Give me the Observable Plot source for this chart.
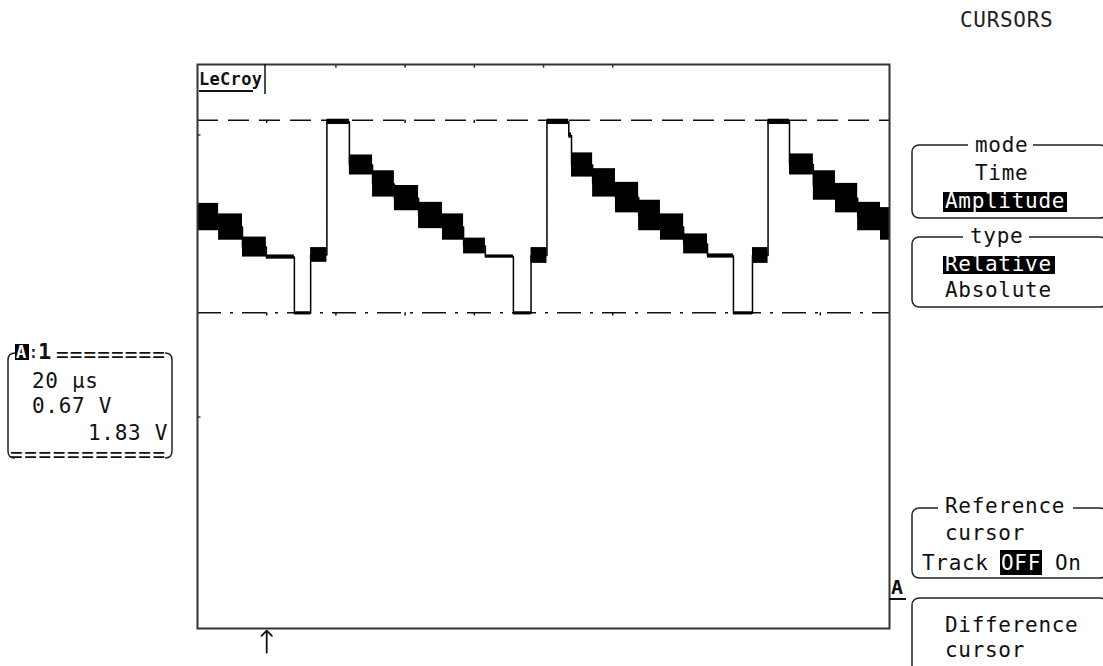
<!DOCTYPE html>
<html><head><meta charset="utf-8">
<script src="https://cdn.jsdelivr.net/npm/d3@7"></script>
<script src="https://cdn.jsdelivr.net/npm/@observablehq/plot@0.6"></script>
<style>
body{margin:0;background:#fff;}
#chart{position:relative;width:1103px;height:666px;overflow:hidden;}
</style></head><body><div id="chart"></div>
<script>
// ---- data ----
const timePerDiv = 20;      // µs / div
const voltsPerDiv = 0.67;   // V / div
const refCursor = 0.32;     // V (dash-dot cursor)
const diffCursor = 2.15;    // V (dashed cursor)
const triggerT = 20;        // µs, trigger arrow
const groundV = -2.40;      // V, channel A marker

// waveform segments: [t0 (µs), t1 (µs), low (V), high (V)]
const segments = [
  [0.0, 6.1, 1.10, 1.36],
  [6.1, 13.0, 1.01, 1.26],
  [13.0, 19.9, 0.85, 1.04],
  [19.9, 28.0, 0.83, 0.87],
  [28.0, 32.7, 0.30, 0.33],
  [32.7, 37.4, 0.80, 0.94],
  [37.4, 43.9, 2.11, 2.16],
  [43.9, 50.6, 1.63, 1.82],
  [50.6, 56.9, 1.42, 1.67],
  [56.9, 63.9, 1.29, 1.53],
  [63.9, 70.8, 1.12, 1.37],
  [70.8, 76.9, 1.01, 1.26],
  [76.9, 83.2, 0.88, 1.03],
  [83.2, 91.3, 0.84, 0.87],
  [91.3, 96.4, 0.30, 0.33],
  [96.4, 101.0, 0.79, 0.94],
  [101.0, 107.3, 2.11, 2.16],
  [107.3, 108.1, 1.98, 2.03],
  [108.1, 114.2, 1.61, 1.84],
  [114.2, 120.8, 1.42, 1.69],
  [120.8, 127.5, 1.27, 1.56],
  [127.5, 133.8, 1.10, 1.39],
  [133.8, 140.5, 1.01, 1.26],
  [140.5, 147.4, 0.88, 1.07],
  [147.4, 154.9, 0.84, 0.88],
  [154.9, 160.4, 0.30, 0.33],
  [160.4, 164.9, 0.79, 0.94],
  [164.9, 171.1, 2.11, 2.16],
  [171.1, 178.0, 1.63, 1.83],
  [178.0, 184.4, 1.39, 1.67],
  [184.4, 190.8, 1.27, 1.55],
  [190.8, 197.4, 1.10, 1.37],
  [197.4, 200.0, 1.01, 1.32]
];

const topTicks = [40, 60, 80, 100, 120];
const leftTicks = [2.01, -0.67];
const dashTicks = [20, 60, 80];
const dashDotTicks = [20, 40, 60, 80, 120, 180];

const readout = ["20 µs", "0.67 V", "1.83 V"];
const menuMode = ["mode", "Time", "Amplitude"];
const menuType = ["type", "Relative", "Absolute"];
const menuRef = ["Reference", "cursor", "Track", "OFF", "On"];
const menuDiff = ["Difference", "cursor"];

// ---- build ----
const segTable = segments.map(([t0, t1, lo, hi]) => ({t0, t1, lo, hi}));
const tracePts = segTable.flatMap(s => [{t: s.t0, v: (s.lo + s.hi) / 2}, {t: s.t1, v: (s.lo + s.hi) / 2}]);
const yMax = 4 * voltsPerDiv;

const plot = Plot.plot({
  width: 1103, height: 666,
  marginLeft: 197, marginRight: 214, marginTop: 64, marginBottom: 38,
  x: {domain: [0, 10 * timePerDiv], axis: null},
  y: {domain: [-yMax, yMax], axis: null},
  style: {background: "white", overflow: "visible"},
  marks: [
    Plot.ruleY([diffCursor], {stroke: "#111", strokeWidth: 1.5, strokeDasharray: "21,10"}),
    Plot.ruleY([refCursor], {stroke: "#111", strokeWidth: 1.5, strokeDasharray: "24,9,3,9"}),
    Plot.ruleX(dashTicks, {x: d => d, y1: diffCursor, y2: diffCursor - 0.03, stroke: "#111", strokeWidth: 1.5}),
    Plot.ruleX(dashDotTicks, {x: d => d, y1: refCursor, y2: refCursor - 0.03, stroke: "#111", strokeWidth: 1.5}),
    Plot.rect(segTable, {x1: "t0", x2: "t1", y1: "lo", y2: "hi", fill: "black"}),
    Plot.line(tracePts, {x: "t", y: "v", stroke: "black", strokeWidth: 1.5}),
    Plot.frame({stroke: "#333", strokeWidth: 2}),
    Plot.ruleX(topTicks, {x: d => d, y1: yMax, y2: yMax - 0.035, stroke: "#333", strokeWidth: 1.5}),
    Plot.ruleY(leftTicks, {y: d => d, x1: 0, x2: 1, stroke: "#333", strokeWidth: 1.5}),
    Plot.arrow([triggerT], {x1: d => d, x2: d => d, y1: -yMax - 0.23, y2: -yMax - 0.02,
      stroke: "#111", strokeWidth: 1.8, headLength: 11, headAngle: 90})
  ]
});
document.getElementById("chart").appendChild(plot);

// ---- scope chrome ----
const svg = d3.select(plot);
const g = svg.append("g")
  .attr("text-anchor", "start")
  .attr("font-family", "'DejaVu Sans Mono', monospace")
  .attr("font-size", 21).attr("letter-spacing", "0.7px").attr("fill", "#111");

function txt(x, y, s, o = {}) {
  const t = g.append("text").attr("x", x).attr("y", y).attr("text-anchor", "start").text(s);
  for (const k in o) t.attr(k, o[k]);
  return t;
}
function inv(x, y, w, h, tx, ty, s) {
  g.append("rect").attr("x", x).attr("y", y).attr("width", w).attr("height", h).attr("fill", "#000");
  txt(tx, ty, s, {fill: "#fff"});
}
function box(x, y, w, h, title, tx0, tx1) {
  g.append("rect").attr("x", x).attr("y", y).attr("width", w).attr("height", h).attr("rx", 7)
    .attr("fill", "none").attr("stroke", "#222").attr("stroke-width", 1.5);
  if (title) {
    g.append("rect").attr("x", tx0).attr("y", y - 3).attr("width", tx1 - tx0).attr("height", 6).attr("fill", "#fff");
  }
}

// title
txt(960, 27, "CURSORS", {fill: "#222"});

// LeCroy logo
txt(199, 85, "LeCroy", {"font-weight": "bold", "font-size": 17, "letter-spacing": "0.3px"});
g.append("line").attr("x1", 199).attr("x2", 253).attr("y1", 91).attr("y2", 91).attr("stroke", "#111").attr("stroke-width", 2);
g.append("line").attr("x1", 265).attr("x2", 265).attr("y1", 64).attr("y2", 94).attr("stroke", "#111").attr("stroke-width", 1.5);

// channel A ground marker
txt(891, 594, "A", {"font-weight": "bold", "font-size": 20, "letter-spacing": "0px"});
g.append("line").attr("x1", 889).attr("x2", 906).attr("y1", 599).attr("y2", 599).attr("stroke", "#111").attr("stroke-width", 2);

// readout box
g.append("path").attr("d", "M15 353 Q8 353 8 360 L8 451 Q8 458 15 458").attr("fill", "none").attr("stroke", "#222").attr("stroke-width", 1.5);
g.append("path").attr("d", "M165 353 Q172 353 172 360 L172 451 Q172 458 165 458").attr("fill", "none").attr("stroke", "#222").attr("stroke-width", 1.5);
g.append("rect").attr("x", 15).attr("y", 344).attr("width", 14).attr("height", 16).attr("fill", "#000");
txt(16, 358, "A", {fill: "#fff", "font-size": 17, "font-weight": "bold", "letter-spacing": "0px"});
txt(28, 358, ":", {"letter-spacing": "0px", "font-size": 18});
txt(38, 359, "1", {"font-weight": "bold", "font-size": 22, "letter-spacing": "0px"});
txt(56, 362, "========", {"letter-spacing": "1.1px"});
txt(32, 388, readout[0]);
txt(32, 413, readout[1]);
txt(88, 440, readout[2]);
txt(10, 462, "===========", {"letter-spacing": "1.6px"});

// menu: mode
box(912, 145, 195, 73, true, 968, 1033);
txt(975, 152, menuMode[0]);
txt(975, 180, menuMode[1]);
inv(943, 192, 124, 20, 945, 208, menuMode[2]);

// menu: type
box(912, 237, 195, 70, true, 963, 1029);
txt(970, 243, menuType[0]);
inv(943, 256, 112, 18, 945, 271, menuType[1]);
txt(945, 297, menuType[2]);

// menu: reference cursor
box(912, 508, 195, 70, true, 938, 1073);
txt(945, 513, menuRef[0]);
txt(945, 540, menuRef[1]);
txt(922, 570, menuRef[2]);
inv(1000, 550, 42, 25, 1001, 570, menuRef[3]);
txt(1055, 570, menuRef[4]);

// menu: difference cursor
box(912, 598, 195, 110, false);
txt(945, 632, menuDiff[0]);
txt(945, 657, menuDiff[1]);
</script></body></html>
